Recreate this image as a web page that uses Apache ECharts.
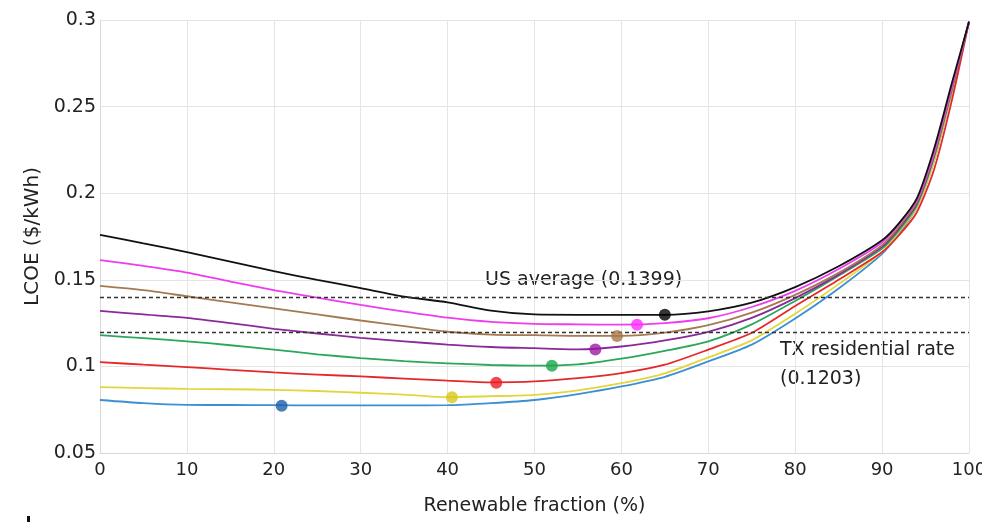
<!DOCTYPE html>
<html>
<head>
<meta charset="utf-8">
<script src="https://cdn.jsdelivr.net/npm/echarts@6/dist/echarts.min.js"></script>
<style>html,body{margin:0;padding:0;background:#fff}#c{width:982px;height:522px}</style>
</head>
<body>
<div id="c"></div>
<script>
var xs = [0,5,10,15,20,25,30,35,40,45,50,55,60,65,70,75,80,85,90,92,94,96,98,100];
var blackY   = [0.176,0.171,0.166,0.1605,0.155,0.150,0.1452,0.1403,0.1370,0.1322,0.1300,0.1298,0.1298,0.1298,0.1318,0.1368,0.1458,0.1578,0.1728,0.183,0.197,0.226,0.263,0.299];
var magentaY = [0.1614,0.158,0.1542,0.149,0.144,0.1397,0.1355,0.1316,0.1281,0.1257,0.1246,0.1243,0.1241,0.1250,0.1278,0.1343,0.1436,0.1562,0.1715,0.1825,0.196,0.224,0.261,0.299];
var brownY   = [0.1465,0.144,0.1405,0.1370,0.1335,0.130,0.1265,0.1232,0.1200,0.1184,0.1180,0.1176,0.1176,0.1195,0.1238,0.1310,0.1413,0.1540,0.1700,0.181,0.195,0.223,0.260,0.299];
var purpleY  = [0.132,0.130,0.128,0.125,0.1217,0.119,0.1165,0.1145,0.1126,0.1112,0.1105,0.1098,0.1115,0.1150,0.1200,0.1280,0.1394,0.1530,0.1690,0.180,0.194,0.222,0.260,0.299];
var greenY   = [0.118,0.1163,0.1145,0.1122,0.1097,0.107,0.1048,0.1030,0.1018,0.1008,0.1004,0.1012,0.1045,0.1090,0.1145,0.1243,0.1378,0.1523,0.1680,0.179,0.193,0.221,0.259,0.299];
var redY     = [0.1025,0.101,0.0996,0.098,0.0965,0.0953,0.0942,0.093,0.0918,0.0908,0.0913,0.0932,0.0961,0.1010,0.1097,0.1194,0.1349,0.1500,0.1660,0.176,0.189,0.214,0.253,0.299];
var yellowY  = [0.088,0.0875,0.087,0.0868,0.0865,0.0858,0.0848,0.0837,0.0823,0.0828,0.0836,0.0862,0.0903,0.0960,0.1052,0.1150,0.1304,0.1475,0.1660,0.178,0.192,0.219,0.258,0.299];
var blueY    = [0.0806,0.0788,0.0778,0.0777,0.0776,0.0775,0.0775,0.0775,0.0776,0.0788,0.0806,0.0840,0.0884,0.0940,0.1029,0.1126,0.1277,0.1450,0.1650,0.177,0.192,0.219,0.258,0.299];

var names      = ['blue','yellow','red','green','purple','brown','magenta','black'];
var lineColors = ['#3b8fd4','#e2d63c','#e62828','#2aa85a','#8a2a9a','#a47a52','#ee3cee','#111111'];
var dotColors  = ['#1a5fa8','#d8c81c','#ee1c24','#1aa64a','#9b19a5','#a8784a','#ff2cff','#000000'];
var optX = [20.9,40.5,45.6,52.0,57.0,59.5,61.8,65.0];
var optY = [0.0773,0.0822,0.0905,0.1004,0.1097,0.1175,0.1240,0.1298];

var refValues = [0.1399, 0.1203];
var refLabels = ['US average (0.1399)', 'TX residential rate\n(0.1203)'];
var yTicks = ['0.05','0.1','0.15','0.2','0.25','0.3'];

var allY = [blueY, yellowY, redY, greenY, purpleY, brownY, magentaY, blackY];
var series = [];
allY.forEach(function(arr, i){
  series.push({
    name: names[i], type: 'line', smooth: 0.25, showSymbol: false,
    lineStyle: {color: lineColors[i], width: 1.8}, itemStyle:{color: lineColors[i]},
    data: xs.map(function(x, j){ return [x, arr[j]]; }), z: 3
  });
});
series.push({
  type: 'line', data: [], silent: true,
  markLine: {
    symbol: 'none', silent: true,
    lineStyle: {type: [4,3], color: '#333', width: 1.3},
    label: {show: false},
    data: refValues.map(function(v){ return {yAxis: v}; })
  }
});
series.push({
  type: 'scatter', symbolSize: 12, z: 5,
  data: optX.map(function(x, i){ return {value: [x, optY[i]], itemStyle: {color: dotColors[i]}}; })
});
var FONT = 'DejaVu Sans';
var chart = echarts.init(document.getElementById('c'), null, {renderer: 'canvas'});
chart.setOption({
  animation: false,
  grid: {left: 100, right: 13, top: 20, bottom: 69, outerBoundsMode: 'none', containLabel: false},
  xAxis: {
    type: 'value', min: 0, max: 100, interval: 10,
    name: 'Renewable fraction (%)', nameLocation: 'middle', nameGap: 44,
    nameTextStyle: {fontFamily: FONT, fontSize: 19, color: '#222'},
    axisLine: {show: true, lineStyle: {color: '#d9d9d9'}},
    axisTick: {show: false},
    axisLabel: {fontFamily: FONT, fontSize: 18, color: '#222', margin: 8},
    splitLine: {show: true, lineStyle: {color: '#e4e4e4'}}
  },
  yAxis: {
    type: 'value', min: 0.05, max: 0.3, interval: 0.05,
    name: 'LCOE ($/kWh)', nameLocation: 'middle', nameGap: 53, nameRotate: 90,
    nameTextStyle: {fontFamily: FONT, fontSize: 20, color: '#222'},
    axisLine: {show: true, lineStyle: {color: '#d9d9d9'}},
    axisTick: {show: false},
    axisLabel: {fontFamily: FONT, fontSize: 19, color: '#222', margin: 4,
      formatter: function(v){ var i = Math.round((v-0.05)/0.05); return yTicks[i]; }},
    splitLine: {show: true, lineStyle: {color: '#e4e4e4'}}
  },
  graphic: [
    {type: 'text', left: 485, top: 271, style: {text: refLabels[0], font: '19px "DejaVu Sans"', fill: '#222'}},
    {type: 'text', left: 780, top: 336, style: {text: refLabels[1], font: '19px "DejaVu Sans"', fill: '#222', lineHeight: 29}},
    {type: 'rect', shape: {x: 27, y: 516, width: 3, height: 6}, style: {fill: '#111'}}
  ],
  series: series
});
</script>
</body>
</html>
